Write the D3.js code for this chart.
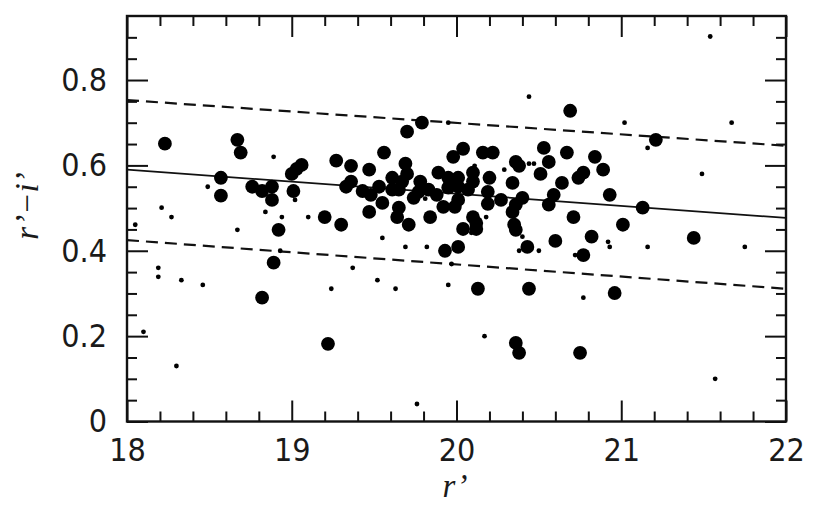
<!DOCTYPE html>
<html>
<head>
<meta charset="utf-8">
<script src="https://cdn.jsdelivr.net/npm/d3@7/dist/d3.min.js"></script>
<style>
  html, body { margin: 0; padding: 0; background: #fff; }
  svg { display: block; }
  .tick text { font-family: "DejaVu Sans Condensed", "DejaVu Sans", sans-serif; font-size: 32px; fill: #1a1a1a; }
  .title { font-family: "Liberation Serif", "DejaVu Serif", serif; font-style: italic; font-size: 33px; fill: #1a1a1a; }
</style>
</head>
<body>
<svg id="chart" width="834" height="521"></svg>
<script>
// ---- data ----
const xMajorTicks = [18, 19, 20, 21, 22];
const xMinorTicks = [18.2, 18.4, 18.6, 18.8, 19.2, 19.4, 19.6, 19.8, 20.2, 20.4, 20.6, 20.8, 21.2, 21.4, 21.6, 21.8];
const yMajorTicks = [0, 0.2, 0.4, 0.6, 0.8];
const yMinorTicks = [0.05, 0.1, 0.15, 0.25, 0.3, 0.35, 0.45, 0.5, 0.55, 0.65, 0.7, 0.75, 0.85, 0.9];
const yTickLabels = ["0", "0.2", "0.4", "0.6", "0.8"];
const xTickLabels = ["18", "19", "20", "21", "22"];

// bright galaxies (large dots): r', r'-i'
const bigR = [18.23,18.67,18.69,18.57,18.57,18.76,18.82,18.88,18.88,19.01,19.00,19.03,19.06,19.27,19.20,18.92,19.30,18.82,19.22,18.89,
  19.36,19.47,19.56,19.36,19.33,19.43,19.48,19.53,19.61,19.61,19.67,19.65,19.69,19.70,19.78,19.77,19.83,19.88,19.74,19.89,
  19.95,20.01,20.01,19.95,19.98,20.04,19.55,19.47,19.65,19.64,19.71,19.84,19.92,19.99,20.01,20.04,19.79,19.70,
  20.16,20.22,20.53,20.67,20.84,20.36,20.38,20.56,20.51,20.89,20.77,20.74,20.64,20.34,20.20,20.10,20.10,20.07,20.19,20.27,
  20.40,20.36,20.34,20.59,20.56,20.93,20.71,20.10,20.12,20.12,20.35,20.36,20.60,20.82,20.19,21.13,21.01,21.44,20.77,
  20.43,20.01,19.93,20.69,21.21,20.13,20.44,20.96,20.36,20.38,20.75];
const bigC = [0.651,0.660,0.630,0.571,0.529,0.550,0.540,0.550,0.519,0.540,0.580,0.592,0.601,0.611,0.479,0.449,0.461,0.290,0.182,0.372,
  0.599,0.590,0.630,0.562,0.550,0.540,0.531,0.550,0.571,0.543,0.562,0.543,0.604,0.580,0.562,0.538,0.543,0.531,0.524,0.583,
  0.571,0.571,0.550,0.548,0.620,0.639,0.512,0.491,0.501,0.479,0.461,0.479,0.503,0.503,0.519,0.451,0.700,0.679,
  0.630,0.630,0.641,0.630,0.620,0.608,0.599,0.608,0.580,0.590,0.583,0.571,0.559,0.559,0.571,0.583,0.562,0.543,0.538,0.519,
  0.524,0.508,0.491,0.531,0.508,0.531,0.479,0.479,0.465,0.451,0.461,0.449,0.423,0.433,0.510,0.501,0.461,0.430,0.390,
  0.409,0.409,0.400,0.728,0.660,0.311,0.311,0.301,0.184,0.161,0.161];

// faint galaxies (small dots)
const smallR = [18.49,18.89,19.02,18.84,18.94,19.10,18.67,18.21,18.27,18.05,18.93,18.19,18.19,18.33,18.46,19.24,19.37,19.52,19.63,18.10,
  18.30,19.76,20.17,21.57,21.54,20.44,21.02,21.67,21.16,21.49,19.95,20.29,20.44,20.47,20.11,20.18,20.09,20.40,20.38,20.50,
  20.72,20.92,20.93,21.16,21.75,19.69,19.82,19.97,19.95,20.77,19.55,19.81];
const smallC = [0.550,0.620,0.519,0.491,0.479,0.479,0.449,0.501,0.479,0.461,0.400,0.360,0.339,0.331,0.320,0.311,0.360,0.331,0.311,0.210,
  0.130,0.041,0.200,0.100,0.902,0.761,0.700,0.700,0.641,0.580,0.700,0.590,0.604,0.604,0.599,0.479,0.442,0.433,0.400,0.400,
  0.390,0.421,0.409,0.409,0.409,0.409,0.409,0.369,0.320,0.290,0.430,0.522];

// colour-magnitude relation and its +/- limits (values at r' = 18 and 22)
const lineR = [18, 22];
const fitC = [0.590, 0.477];
const upperC = [0.753, 0.646];
const lowerC = [0.425, 0.311];

// ---- drawing ----
const W = 834, H = 521;
const m = { left: 127, right: 48, top: 16, bottom: 99.5 };
const svg = d3.select("#chart");
const x = d3.scaleLinear().domain([18, 22]).range([m.left, W - m.right]);
const y = d3.scaleLinear().domain([0, 0.95]).range([H - m.bottom, m.top]);
const x0 = m.left, x1 = W - m.right, y0 = H - m.bottom, y1 = m.top;

svg.append("clipPath").attr("id", "plotclip")
  .append("rect").attr("x", x0).attr("y", y1).attr("width", x1 - x0).attr("height", y0 - y1);

const plot = svg.append("g").attr("clip-path", "url(#plotclip)");

// lines
const lineGen = d3.line().x(d => x(d[0])).y(d => y(d[1]));
plot.append("path").datum(lineR.map((r, i) => [r, fitC[i]]))
  .attr("d", lineGen).attr("fill", "none").attr("stroke", "#111").attr("stroke-width", 1.8);
plot.append("path").datum(lineR.map((r, i) => [r, upperC[i]]))
  .attr("d", lineGen).attr("fill", "none").attr("stroke", "#111").attr("stroke-width", 2.2).attr("stroke-dasharray", "12,7");
plot.append("path").datum(lineR.map((r, i) => [r, lowerC[i]]))
  .attr("d", lineGen).attr("fill", "none").attr("stroke", "#111").attr("stroke-width", 2.2).attr("stroke-dasharray", "12,7");

// points
const big = bigR.map((r, i) => ({ r, c: bigC[i] }));
const small = smallR.map((r, i) => ({ r, c: smallC[i] }));
plot.selectAll("circle.big").data(big).enter().append("circle").attr("class", "big")
  .attr("cx", d => x(d.r)).attr("cy", d => y(d.c)).attr("r", 6.9).attr("fill", "#000");
plot.selectAll("circle.small").data(small).enter().append("circle").attr("class", "small")
  .attr("cx", d => x(d.r)).attr("cy", d => y(d.c)).attr("r", 2.4).attr("fill", "#000");

// axes
function style(g) {
  g.select(".domain").remove();
  g.selectAll(".tick line").attr("stroke", "#111").attr("stroke-width", 2);
}
const MAJ = 21, MIN = 10;
svg.append("g").attr("transform", `translate(0,${y0})`)
  .call(d3.axisBottom(x).tickValues(xMajorTicks).tickSizeInner(-MAJ).tickSizeOuter(0).tickPadding(17)
    .tickFormat((d, i) => xTickLabels[i])).call(style);
svg.append("g").attr("transform", `translate(0,${y0})`)
  .call(d3.axisBottom(x).tickValues(xMinorTicks).tickSizeInner(-MIN).tickSizeOuter(0).tickFormat("")).call(style);
svg.append("g").attr("transform", `translate(0,${y1})`)
  .call(d3.axisTop(x).tickValues(xMajorTicks).tickSizeInner(-MAJ).tickSizeOuter(0).tickFormat("")).call(style);
svg.append("g").attr("transform", `translate(0,${y1})`)
  .call(d3.axisTop(x).tickValues(xMinorTicks).tickSizeInner(-MIN).tickSizeOuter(0).tickFormat("")).call(style);
svg.append("g").attr("transform", `translate(${x0},0)`)
  .call(d3.axisLeft(y).tickValues(yMajorTicks).tickSizeInner(-MAJ).tickSizeOuter(0).tickPadding(20)
    .tickFormat((d, i) => yTickLabels[i])).call(style);
svg.append("g").attr("transform", `translate(${x0},0)`)
  .call(d3.axisLeft(y).tickValues(yMinorTicks).tickSizeInner(-MIN).tickSizeOuter(0).tickFormat("")).call(style);
svg.append("g").attr("transform", `translate(${x1},0)`)
  .call(d3.axisRight(y).tickValues(yMajorTicks).tickSizeInner(-MAJ).tickSizeOuter(0).tickFormat("")).call(style);
svg.append("g").attr("transform", `translate(${x1},0)`)
  .call(d3.axisRight(y).tickValues(yMinorTicks).tickSizeInner(-MIN).tickSizeOuter(0).tickFormat("")).call(style);

// frame
svg.append("rect").attr("x", x0).attr("y", y1).attr("width", x1 - x0).attr("height", y0 - y1)
  .attr("fill", "none").attr("stroke", "#111").attr("stroke-width", 2.4);

// axis titles
svg.append("text").attr("class", "title").attr("x", 455).attr("y", 497).attr("text-anchor", "middle").text("r’");
svg.append("text").attr("class", "title").attr("transform", "translate(38,206) rotate(-90)")
  .attr("text-anchor", "middle").text("r’−i’");
</script>
</body>
</html>
